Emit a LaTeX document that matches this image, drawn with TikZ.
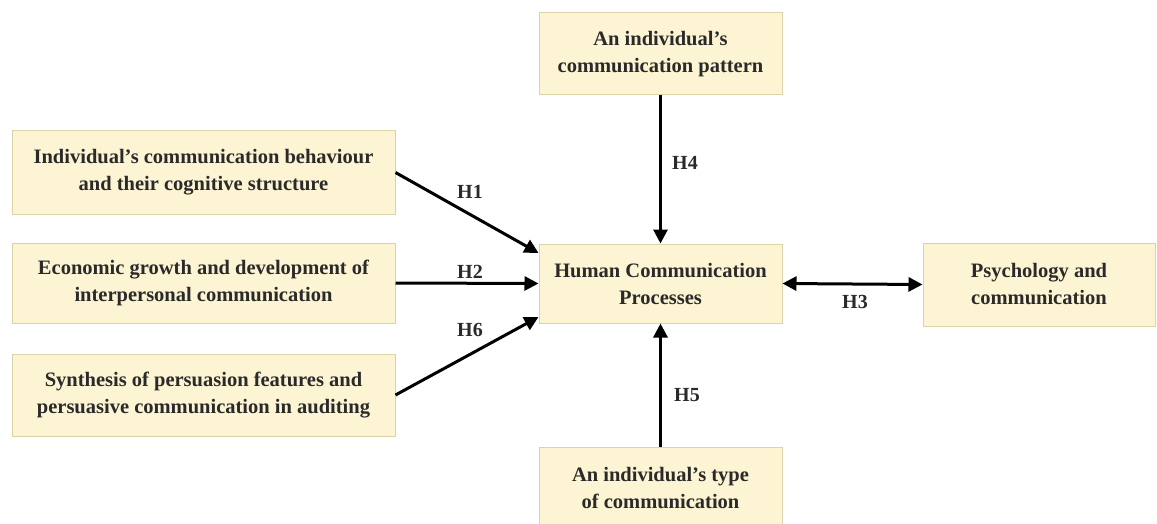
\documentclass[tikz,border=0pt]{standalone}
\usepackage{fontspec}
\setmainfont{Liberation Serif}
\usetikzlibrary{arrows.meta}
\definecolor{boxfill}{HTML}{FCF4D2}
\definecolor{boxline}{HTML}{DDD3A8}
\definecolor{txt}{HTML}{2A2A2A}
\tikzset{
  box/.style={draw=boxline, line width=1pt, fill=boxfill, rectangle, align=center,
    inner sep=0pt, text=txt, font=\bfseries\fontsize{20.5}{27}\selectfont},
  conn/.style={line width=3pt, -{Triangle[length=14pt,width=14pt]}},
  biconn/.style={line width=3pt, {Triangle[length=14pt,width=14pt]}-{Triangle[length=14pt,width=14pt]}},
  hlab/.style={font=\bfseries\fontsize{20}{22}\selectfont, text=txt, inner sep=0pt}
}
\begin{document}
\begin{tikzpicture}[x=1pt,y=-1pt]
\useasboundingbox (0,0) rectangle (1157,524);
\clip (0,0) rectangle (1157,524);
\fill[white] (0,0) rectangle (1157,524);
\node[box, minimum width=383pt, minimum height=83pt] (b1) at (203.5,172.5) {Individual's communication behaviour\\and their cognitive structure};
\node[box, minimum width=383pt, minimum height=80pt] (b2) at (203.5,283) {Economic growth and development of\\interpersonal communication};
\node[box, minimum width=383pt, minimum height=82pt] (b3) at (203.5,395) {Synthesis of persuasion features and\\persuasive communication in auditing};
\node[box, minimum width=243pt, minimum height=79pt] (cen) at (660.5,283.5) {Human Communication\\Processes};
\node[box, minimum width=243pt, minimum height=82pt] (top) at (660.5,54) {An individual's\\communication pattern};
\node[box, minimum width=243pt, minimum height=82pt] (bot) at (660.5,488) {An individual's type\\of communication};
\node[box, minimum width=232pt, minimum height=83pt] (rt) at (1039,284.5) {Psychology and\\communication};
\coordinate (e1) at (cen.west |- 0,253);
\coordinate (e6) at (cen.west |- 0,317);
\draw[conn] (b1.east) -- (e1);
\draw[conn] (b2.east) -- (cen.west);
\draw[conn] (b3.east) -- (e6);
\draw[conn] (top.south) -- (cen.north);
\draw[conn] (bot.north) -- (cen.south);
\draw[biconn] (cen.east) -- (rt.west);
\node[hlab] (h1) at (470,192) {H1};
\node[hlab] (h2) at (470,272) {H2};
\node[hlab] (h6) at (470,330) {H6};
\node[hlab] (h4) at (685,163) {H4};
\node[hlab] (h5) at (687,395) {H5};
\node[hlab] (h3) at (855,302) {H3};
\end{tikzpicture}
\end{document}
